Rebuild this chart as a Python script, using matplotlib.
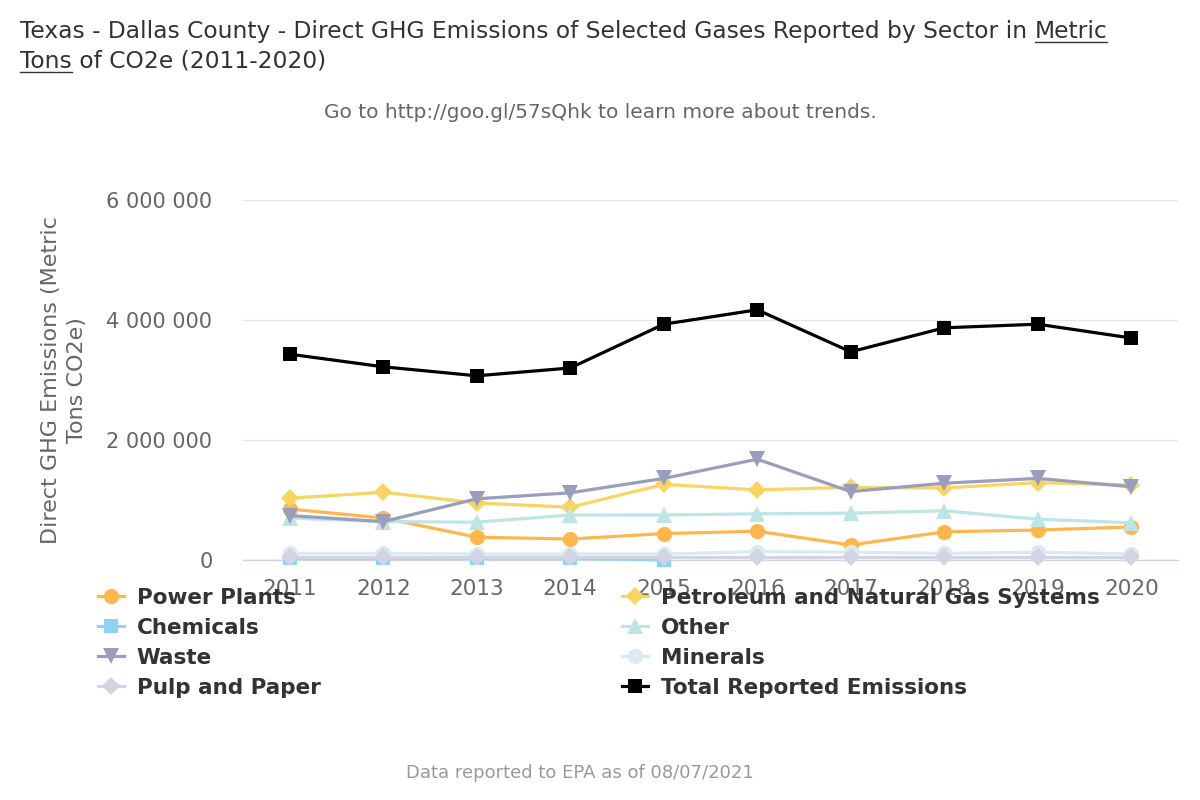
import matplotlib
matplotlib.use("Agg")
import matplotlib.pyplot as plt
from matplotlib.lines import Line2D
from matplotlib.ticker import FuncFormatter
import numpy as np

years = ["2011", "2012", "2013", "2014", "2015", "2016", "2017", "2018", "2019", "2020"]

power_plants = [850000, 700000, 380000, 350000, 440000, 480000, 250000, 470000, 500000, 550000]
petroleum = [1030000, 1130000, 950000, 880000, 1260000, 1170000, 1210000, 1200000, 1290000, 1250000]
chemicals = [30000, 30000, 30000, 30000, 3000, None, None, None, None, None]
other = [700000, 640000, 630000, 750000, 750000, 770000, 780000, 820000, 680000, 620000]
waste = [740000, 640000, 1020000, 1120000, 1360000, 1680000, 1140000, 1280000, 1360000, 1220000]
minerals = [110000, 110000, 100000, 100000, 100000, 140000, 130000, 110000, 130000, 100000]
pulp_paper = [50000, 50000, 50000, 50000, 50000, 50000, 50000, 50000, 50000, 50000]
total = [3430000, 3220000, 3070000, 3200000, 3930000, 4170000, 3470000, 3870000, 3930000, 3700000]

series = [
    ("Power Plants", power_plants, "#ffb74d", "o", 11),
    ("Petroleum and Natural Gas Systems", petroleum, "#f8d563", "D", 9),
    ("Chemicals", chemicals, "#8fd3f4", "s", 10),
    ("Other", other, "#bde5e6", "^", 11),
    ("Waste", waste, "#9a9ebd", "v", 11),
    ("Minerals", minerals, "#d8eaf2", "o", 11),
    ("Pulp and Paper", pulp_paper, "#d2d4e3", "D", 9),
    ("Total Reported Emissions", total, "#000000", "s", 10),
]

W, H = 1200, 800
fig = plt.figure(figsize=(12, 8), dpi=100)
fig.patch.set_facecolor("white")

ax = fig.add_axes([243 / W, 1 - 560 / H, (1178 - 243) / W, (560 - 200) / H])
x = np.arange(len(years))
handles = {}
for i, (name, vals, col, mk, ms) in enumerate(series):
    v = np.array([np.nan if a is None else a for a in vals], dtype=float)
    ln, = ax.plot(x, v, color=col, lw=2.3, marker=mk, markersize=ms,
                  markeredgewidth=0, zorder=3 + i, clip_on=False)
    handles[name] = ln

ax.set_xlim(-0.5, len(years) - 0.5)
ax.set_ylim(0, 6000000)
ax.set_yticks([0, 2000000, 4000000, 6000000])
ax.yaxis.set_major_formatter(FuncFormatter(lambda v, p: f"{int(v):,}".replace(",", " ")))
ax.set_xticks(x)
ax.set_xticklabels(years)
ax.grid(axis="y", color="#e6e6e6", lw=1)
ax.set_axisbelow(True)
for s in ["top", "right", "left"]:
    ax.spines[s].set_visible(False)
ax.spines["bottom"].set_color("#ccd6eb")
ax.spines["bottom"].set_linewidth(1)
ax.tick_params(axis="y", length=0, pad=22, labelsize=15, labelcolor="#666666")
ax.tick_params(axis="x", length=0, pad=14, labelsize=15.5, labelcolor="#666666")

ax.set_ylabel("Direct GHG Emissions (Metric\nTons CO2e)", fontsize=16, color="#666666",
              linespacing=1.4)
ax.yaxis.set_label_coords((87 - 243) / (1178 - 243), 0.5)

# Legend
order = ["Power Plants", "Chemicals", "Waste", "Pulp and Paper",
         "Petroleum and Natural Gas Systems", "Other", "Minerals", "Total Reported Emissions"]
leg = fig.legend([handles[n] for n in order], order, ncol=2, frameon=False,
                 loc="upper left", bbox_to_anchor=(98 / W, 1 - 588 / H),
                 prop={"weight": "bold", "size": 15.5}, labelcolor="#333333",
                 handlelength=1.2, handletextpad=0.6, columnspacing=14.0,
                 labelspacing=0.46, borderaxespad=0, borderpad=0)

fig.canvas.draw()
renderer = fig.canvas.get_renderer()


def text_width(txt, size):
    t = fig.text(0, 0, txt + "|", fontsize=size)
    b = fig.text(0, 0, "|", fontsize=size)
    w = t.get_window_extent(renderer=renderer).width - b.get_window_extent(renderer=renderer).width
    t.remove()
    b.remove()
    return w


def place_line(parts, x0, ybase, size, color):
    xx = x0
    for txt, ul in parts:
        t = fig.text(xx / W, 1 - ybase / H, txt, fontsize=size, color=color,
                     ha="left", va="baseline")
        bb = t.get_window_extent(renderer=renderer)
        if ul:
            fig.add_artist(Line2D([xx / W, (xx + bb.width) / W],
                                  [1 - (ybase + 4) / H, 1 - (ybase + 4) / H],
                                  color=color, lw=1))
        xx = xx + text_width(txt, size)


title_color = "#333333"
place_line([("Texas - Dallas County - Direct GHG Emissions of Selected Gases Reported by Sector in ", False),
            ("Metric", True)], 20, 38, 16.8, title_color)
place_line([("Tons", True), (" of CO2e (2011-2020)", False)], 20, 68, 16.8, title_color)

fig.text(600 / W, 1 - 113 / H, "Go to http://goo.gl/57sQhk to learn more about trends.",
         fontsize=14.5, color="#666666", ha="center", va="center")
fig.text(580 / W, 1 - 773 / H, "Data reported to EPA as of 08/07/2021",
         fontsize=13, color="#999999", ha="center", va="center")

fig.savefig("out.png", dpi=100, facecolor="white")
